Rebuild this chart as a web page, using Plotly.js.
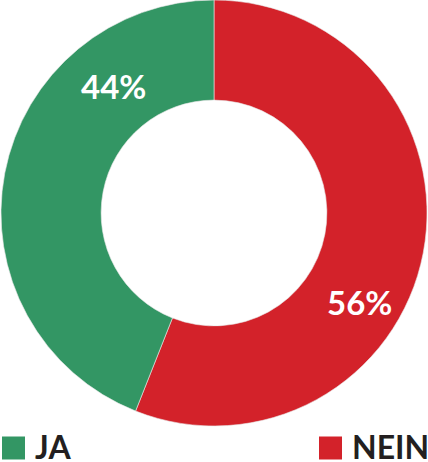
<!DOCTYPE html>
<html>
<head>
<meta charset="utf-8">
<script src="https://cdn.plot.ly/plotly-3.0.1.min.js"></script>
<style>
html,body{margin:0;padding:0;background:#fff;}
#chart{width:428px;height:462px;}
</style>
</head>
<body>
<div id="chart"></div>
<script>
const labels = ["JA", "NEIN"];
const values = [44, 56];
const colors = ["#339664", "#d3222a"];

const W = 428, H = 462;
const FONT = "Lato, Open Sans, sans-serif";

const total = values.reduce((a, b) => a + b, 0);
const pct = values.map(v => Math.round(v / total * 100) + "%");

// label anchor positions (px) for the percentage texts
const labelPos = [[114, 86], [359, 302]];
// legend positions (px): square left x for each entry
const legendX = [2, 319];
const legendY = 448, sq = 23;

const annotations = [];
const shapes = [];
labels.forEach((lab, i) => {
  annotations.push({
    xref: "paper", yref: "paper",
    x: labelPos[i][0] / W, y: 1 - labelPos[i][1] / H,
    xanchor: "center", yanchor: "middle",
    text: pct[i], showarrow: false,
    font: {family: FONT, size: 33, color: "#ffffff", weight: 700}
  });
  shapes.push({
    type: "rect", xref: "paper", yref: "paper",
    x0: legendX[i] / W, x1: (legendX[i] + sq) / W,
    y0: 1 - (legendY + sq / 2) / H, y1: 1 - (legendY - sq / 2) / H,
    fillcolor: colors[i], line: {width: 0}
  });
  annotations.push({
    xref: "paper", yref: "paper",
    x: (legendX[i] + sq + 8) / W, y: 1 - (legendY - 2) / H,
    xanchor: "left", yanchor: "middle",
    text: lab, showarrow: false,
    font: {family: FONT, size: 32, color: "#231f20", weight: 700}
  });
});

// slices drawn NEIN first, clockwise from 12 o'clock, so JA ends at the top on the left
const order = [1, 0];

const data = [{
  type: "pie",
  labels: order.map(i => labels[i]),
  values: order.map(i => values[i]),
  hole: 0.53,
  sort: false,
  direction: "clockwise",
  rotation: 0,
  textinfo: "none",
  marker: {colors: order.map(i => colors[i]), line: {color: "#e8e8e8", width: 0.6}},
  domain: {x: [0, 1], y: [1 - 426 / H, 1]},
  showlegend: false,
  hoverinfo: "label+percent"
}];

const layout = {
  width: W, height: H,
  margin: {l: 0, r: 0, t: 0, b: 0},
  paper_bgcolor: "#ffffff",
  plot_bgcolor: "#ffffff",
  showlegend: false,
  annotations: annotations,
  shapes: shapes
};

Plotly.newPlot("chart", data, layout, {displayModeBar: false, staticPlot: true});
</script>
</body>
</html>
